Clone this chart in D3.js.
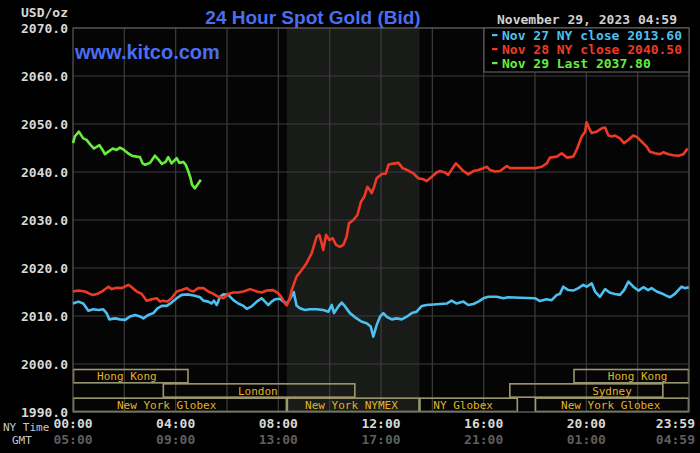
<!DOCTYPE html>
<html>
<head>
<meta charset="utf-8">
<script src="https://cdn.jsdelivr.net/npm/d3@7"></script>
<style>
  html, body { margin: 0; padding: 0; background: #000; }
  svg { display: block; }
  .mono { font-family: "DejaVu Sans Mono", "Liberation Mono", monospace; font-weight: bold; }
</style>
</head>
<body>
<svg id="chart" width="700" height="453"></svg>
<script>
// ---------- DATA ----------
const titleText = "24 Hour Spot Gold (Bid)";
const siteText = "www.kitco.com";
const dateText = "November 29, 2023 04:59";
const unitText = "USD/oz";

const yTicks = [1990, 2000, 2010, 2020, 2030, 2040, 2050, 2060, 2070];
const xTickHours = [0, 4, 8, 12, 16, 20, 24];
const nyTimeLabels = ["00:00", "04:00", "08:00", "12:00", "16:00", "20:00", "23:59"];
const gmtLabels = ["05:00", "09:00", "13:00", "17:00", "21:00", "01:00", "04:59"];
const gridHours = [2, 4, 6, 8, 10, 12, 14, 16, 18, 20, 22];

// NYMEX pit session (shaded)
const pitSession = [8.333, 13.5];

// Market sessions
const sessionNames = ["Hong Kong", "Hong Kong", "London", "Sydney", "New York Globex", "New York NYMEX", "NY Globex", "New York Globex"];
const sessionRow = [0, 0, 1, 1, 2, 2, 2, 2];
const sessionStart = [0, 19.5, 3.5, 17, 0, 8.333, 13.5, 18];
const sessionEnd = [4.5, 24, 11, 23, 8.333, 13.5, 17.33, 24];
const sessionLabelAt = [2.1, 22.0, 7.2, 21.0, 3.65, 10.85, 15.2, 20.95];

const legendLabels = ["Nov 27 NY close 2013.60", "Nov 28 NY close 2040.50", "Nov 29 Last 2037.80"];

// Series: [hour of NY day, price]
const nov27 = [
[0.0,2012.6],[0.21,2013.0],[0.40,2012.6],[0.60,2011.1],[0.79,2011.4],[0.99,2011.25],[1.18,2011.4],[1.31,2010.6],
[1.41,2009.3],[1.64,2009.5],[1.83,2009.3],[2.03,2009.2],[2.22,2009.9],[2.42,2010.2],[2.61,2009.9],[2.74,2009.5],
[2.93,2010.2],[3.13,2010.6],[3.29,2011.6],[3.46,2012.1],[3.65,2012.1],[3.84,2012.8],[4.04,2013.7],[4.23,2014.4],
[4.49,2014.5],[4.75,2014.2],[4.95,2013.9],[5.08,2013.2],[5.27,2013.0],[5.40,2012.6],[5.49,2013.2],[5.60,2012.3],
[5.73,2014.0],[5.86,2014.5],[6.05,2014.4],[6.25,2013.3],[6.44,2012.6],[6.64,2012.1],[6.77,2011.5],[6.96,2012.0],
[7.16,2013.0],[7.35,2013.7],[7.48,2013.0],[7.61,2012.3],[7.74,2013.0],[7.87,2013.5],[8.07,2013.6],[8.19,2013.0],
[8.33,2012.6],[8.45,2013.5],[8.60,2015.0],[8.71,2012.2],[8.84,2011.6],[9.04,2011.25],[9.23,2011.4],[9.49,2011.4],
[9.75,2011.25],[9.95,2010.9],[10.08,2012.3],[10.17,2010.6],[10.34,2012.0],[10.47,2012.8],[10.60,2012.0],[10.79,2010.6],
[11.05,2009.5],[11.25,2008.8],[11.44,2008.5],[11.60,2007.8],[11.70,2005.7],[11.83,2008.1],[11.96,2009.85],[12.09,2010.6],
[12.22,2009.85],[12.42,2009.3],[12.61,2009.5],[12.81,2009.3],[13.0,2009.85],[13.20,2010.6],[13.39,2010.9],[13.59,2012.1],
[13.78,2012.3],[14.04,2012.4],[14.30,2012.5],[14.56,2012.6],[14.75,2013.2],[14.95,2012.6],[15.21,2013.0],[15.40,2012.3],
[15.60,2012.5],[15.83,2013.1],[15.99,2013.7],[16.18,2014.0],[16.51,2014.0],[16.77,2013.7],[16.96,2013.9],[17.42,2013.8],
[18.0,2013.7],[18.19,2013.1],[18.45,2013.5],[18.65,2013.3],[18.85,2014.4],[18.97,2014.6],[19.10,2016.1],[19.30,2015.4],
[19.49,2015.3],[19.69,2015.8],[19.88,2016.5],[20.01,2016.1],[20.21,2016.8],[20.34,2015.1],[20.53,2014.0],[20.73,2015.6],
[20.92,2014.85],[21.12,2014.6],[21.31,2014.4],[21.47,2015.4],[21.64,2017.15],[21.83,2016.1],[22.03,2015.3],[22.22,2016.0],
[22.41,2015.4],[22.54,2015.8],[22.74,2015.1],[22.94,2014.7],[23.13,2014.2],[23.26,2013.9],[23.45,2014.6],[23.71,2016.1],
[23.84,2015.8],[23.99,2016.0]
];

const nov28 = [
[0.0,2015.1],[0.21,2015.3],[0.47,2015.1],[0.66,2014.6],[0.79,2014.4],[0.99,2014.7],[1.18,2015.3],[1.38,2016.1],
[1.51,2015.6],[1.70,2015.9],[1.90,2015.8],[2.16,2016.5],[2.29,2016.0],[2.48,2015.1],[2.68,2014.6],[2.87,2013.2],
[3.07,2013.5],[3.26,2013.7],[3.39,2013.0],[3.52,2013.2],[3.67,2013.0],[3.84,2013.7],[4.04,2015.1],[4.23,2015.4],
[4.43,2015.8],[4.56,2015.3],[4.69,2015.1],[4.88,2015.8],[5.08,2015.8],[5.27,2015.1],[5.47,2014.6],[5.66,2014.0],
[5.86,2013.7],[6.05,2014.6],[6.25,2014.9],[6.44,2014.9],[6.64,2015.1],[6.90,2015.6],[7.16,2015.1],[7.35,2014.9],
[7.55,2015.3],[7.80,2015.4],[8.0,2014.7],[8.13,2013.9],[8.26,2012.6],[8.33,2012.2],[8.45,2013.8],[8.52,2015.4],
[8.71,2018.2],[8.91,2019.6],[9.10,2021.0],[9.30,2023.1],[9.49,2026.5],[9.60,2026.9],[9.69,2025.1],[9.75,2023.75],
[9.86,2026.9],[9.99,2025.8],[10.12,2026.2],[10.25,2024.8],[10.40,2024.4],[10.53,2024.8],[10.66,2026.5],[10.75,2029.3],
[10.92,2030.0],[11.08,2031.0],[11.22,2033.8],[11.35,2034.85],[11.47,2036.9],[11.57,2036.25],[11.64,2035.6],[11.73,2036.9],
[11.83,2038.7],[12.03,2039.6],[12.19,2039.7],[12.29,2041.5],[12.42,2041.7],[12.55,2041.8],[12.68,2041.9],[12.84,2040.8],
[13.06,2040.3],[13.26,2039.7],[13.45,2038.7],[13.65,2038.5],[13.78,2038.1],[13.98,2039.0],[14.17,2039.9],[14.30,2040.2],
[14.49,2039.9],[14.62,2039.4],[14.79,2040.8],[14.92,2041.8],[15.05,2041.1],[15.21,2040.2],[15.40,2039.5],[15.60,2040.2],
[15.79,2040.4],[15.99,2040.8],[16.12,2041.1],[16.25,2040.4],[16.44,2040.1],[16.64,2040.2],[16.90,2041.25],[17.03,2040.8],
[17.42,2040.8],[18.0,2040.8],[18.26,2041.1],[18.46,2041.8],[18.58,2043.0],[18.85,2043.2],[19.04,2043.9],[19.24,2043.0],
[19.49,2043.2],[19.62,2044.6],[19.82,2047.4],[19.95,2048.4],[20.01,2050.35],[20.11,2049.1],[20.21,2048.1],[20.40,2048.4],
[20.60,2049.1],[20.73,2049.25],[20.86,2047.6],[20.99,2047.4],[21.12,2047.6],[21.31,2047.0],[21.47,2046.0],[21.64,2046.7],
[21.83,2047.6],[21.99,2047.2],[22.16,2046.3],[22.35,2045.3],[22.48,2044.2],[22.68,2043.9],[22.87,2043.7],[23.0,2044.1],
[23.20,2043.7],[23.39,2043.5],[23.59,2043.4],[23.78,2043.7],[23.94,2044.9]
];

const nov29 = [
[0.0,2046.0],[0.07,2047.4],[0.23,2048.4],[0.40,2047.0],[0.53,2046.7],[0.69,2045.6],[0.82,2044.9],[1.03,2045.6],
[1.14,2044.7],[1.25,2043.7],[1.34,2044.1],[1.55,2044.9],[1.70,2044.6],[1.83,2045.1],[1.96,2044.7],[2.12,2044.0],
[2.29,2043.4],[2.48,2043.2],[2.61,2043.1],[2.71,2041.8],[2.81,2041.5],[3.0,2041.9],[3.19,2043.4],[3.33,2042.6],
[3.46,2041.7],[3.61,2042.1],[3.71,2043.1],[3.84,2041.8],[4.04,2042.9],[4.14,2041.9],[4.30,2042.1],[4.39,2041.5],
[4.49,2040.2],[4.58,2038.7],[4.64,2037.3],[4.75,2036.6],[4.88,2037.6],[4.98,2038.4]
];

// ---------- DRAW ----------
const svg = d3.select("#chart");
const W = 700, H = 453;
const plot = {left: 73, top: 28, right: 689, bottom: 412};

svg.append("rect").attr("width", W).attr("height", H).attr("fill", "#000");

const x = d3.scaleLinear().domain([0, 24]).range([plot.left, plot.right]);
const y = d3.scaleLinear().domain([1990, 2070]).range([plot.bottom, plot.top]);
const rowBand = d3.scaleBand().domain([0, 1, 2]).range([369, plot.bottom]);

// plot background + shaded pit session
svg.append("rect").attr("x", plot.left).attr("y", plot.top)
  .attr("width", plot.right - plot.left).attr("height", plot.bottom - plot.top).attr("fill", "#050505");
svg.append("rect").attr("x", x(pitSession[0])).attr("y", plot.top)
  .attr("width", x(pitSession[1]) - x(pitSession[0])).attr("height", plot.bottom - plot.top)
  .attr("fill", "#191b19");

// gridlines
const grid = svg.append("g").attr("stroke", "#3d3d3d").attr("stroke-width", 1.2);
grid.selectAll("line.v").data(gridHours).join("line")
  .attr("x1", d => x(d)).attr("x2", d => x(d)).attr("y1", plot.top).attr("y2", plot.bottom);
grid.selectAll("line.h").data(yTicks).join("line")
  .attr("x1", plot.left).attr("x2", plot.right).attr("y1", d => y(d)).attr("y2", d => y(d));

// market session bars
const sess = svg.append("g");
sessionNames.forEach((name, i) => {
  const r = sessionRow[i];
  sess.append("rect")
    .attr("x", x(sessionStart[i]) + 0.5).attr("y", rowBand(r) + 0.5)
    .attr("width", x(sessionEnd[i]) - x(sessionStart[i]) - 1)
    .attr("height", rowBand.bandwidth() - 1)
    .attr("fill", "none").attr("stroke", "#9c9870").attr("stroke-width", 1.6);
  sess.append("text").attr("class", "mono")
    .attr("x", x(sessionLabelAt[i])).attr("y", rowBand(r) + rowBand.bandwidth() / 2 + 4)
    .attr("text-anchor", "middle").attr("fill", "#e0b428")
    .style("font-size", "11px").style("font-weight", "normal")
    .text(name);
});

// plot border
svg.append("rect").attr("x", plot.left).attr("y", plot.top)
  .attr("width", plot.right - plot.left).attr("height", plot.bottom - plot.top)
  .attr("fill", "none").attr("stroke", "#5a5a5a").attr("stroke-width", 1.2);

// lines
const line = d3.line().x(d => x(d[0])).y(d => y(d[1]));
const series = [
  {data: nov27, color: "#4dbff0"},
  {data: nov28, color: "#ee3a25"},
  {data: nov29, color: "#66ee3c"}
];
svg.append("g").selectAll("path").data(series).join("path")
  .attr("d", d => line(d.data)).attr("fill", "none")
  .attr("stroke", d => d.color).attr("stroke-width", 2.6)
  .attr("stroke-linejoin", "round");

// y axis labels
svg.append("g").selectAll("text").data(yTicks).join("text")
  .attr("class", "mono").attr("x", 68).attr("y", d => y(d) + 4.5)
  .attr("text-anchor", "end").attr("fill", "#d8d8d8").style("font-size", "13px")
  .text(d => d.toFixed(1));
svg.append("text").attr("class", "mono").attr("x", 68).attr("y", 17)
  .attr("text-anchor", "end").attr("fill", "#d8d8d8").style("font-size", "13px").text(unitText);

// x axis labels
const xl = svg.append("g");
xTickHours.forEach((h, i) => {
  const last = i === xTickHours.length - 1;
  const px = last ? W - 5 : x(h);
  const anchor = last ? "end" : "middle";
  xl.append("text").attr("class", "mono").attr("x", px).attr("y", 428)
    .attr("text-anchor", anchor).attr("fill", "#d8d8d8").style("font-size", "13px").text(nyTimeLabels[i]);
  xl.append("text").attr("class", "mono").attr("x", px).attr("y", 444)
    .attr("text-anchor", anchor).attr("fill", "#5e5e5e").style("font-size", "13px").text(gmtLabels[i]);
});
svg.append("text").attr("class", "mono").attr("x", 3).attr("y", 431)
  .attr("fill", "#c8c8c8").style("font-size", "11px").style("font-weight", "normal").text("NY Time");
svg.append("text").attr("class", "mono").attr("x", 12).attr("y", 444)
  .attr("fill", "#c8c8c8").style("font-size", "11px").style("font-weight", "normal").text("GMT");

// titles
svg.append("text").attr("x", 313).attr("y", 24).attr("text-anchor", "middle")
  .attr("fill", "#4a6ef0").style("font-family", "Liberation Sans, Arial, sans-serif")
  .style("font-weight", "bold").style("font-size", "19px").text(titleText);
svg.append("text").attr("x", 75).attr("y", 59)
  .attr("fill", "#4a6ef0").style("font-family", "Liberation Sans, Arial, sans-serif")
  .style("font-weight", "bold").style("font-size", "20px").text(siteText);
svg.append("text").attr("class", "mono").attr("x", 497).attr("y", 24)
  .attr("fill", "#d0d0d0").style("font-size", "13px").text(dateText);

// legend
const lg = svg.append("g");
lg.append("rect").attr("x", 484).attr("y", plot.top).attr("width", plot.right - 484).attr("height", 44)
  .attr("fill", "#000").attr("stroke", "#5a5a5a").attr("stroke-width", 1.2);
legendLabels.forEach((t, i) => {
  const c = series[i].color;
  lg.append("rect").attr("x", 492).attr("y", 34 + i * 14).attr("width", 5.5).attr("height", 2.2).attr("fill", c);
  lg.append("text").attr("class", "mono").attr("x", 502).attr("y", 39.5 + i * 14)
    .attr("fill", c).style("font-size", "13px").text(t);
});
</script>
</body>
</html>
